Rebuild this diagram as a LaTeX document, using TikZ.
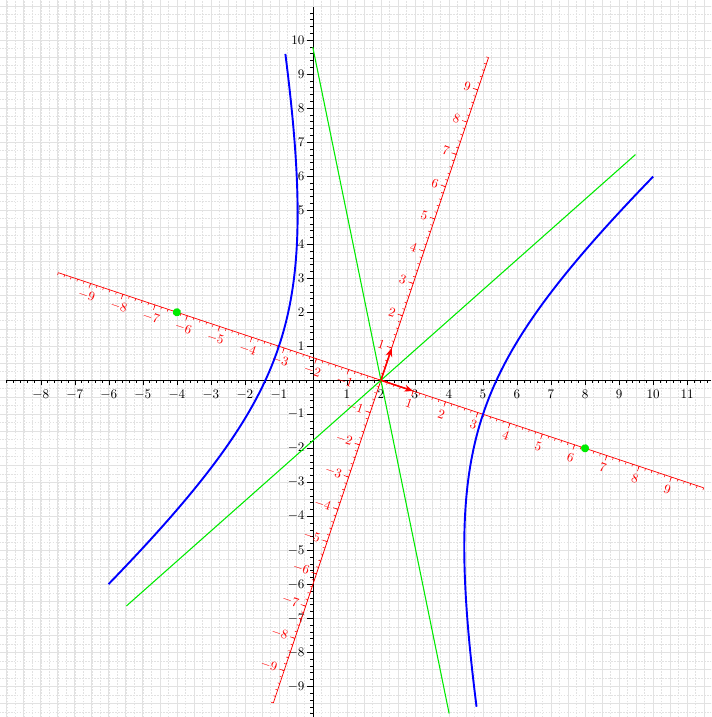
\documentclass[tikz,border=0pt]{standalone}
\usetikzlibrary{arrows.meta}
\definecolor{gridc}{RGB}{226,226,226}
\definecolor{asy}{RGB}{0,235,0}
\begin{document}
\begin{tikzpicture}[x=1cm,y=1cm,
  font=\fontsize{10.5}{12}\selectfont,
  gridminor/.style={gridc, line width=0.5pt, dash pattern=on 1.5pt off 1pt},
  gridmajor/.style={gridc, line width=0.6pt},
  axis/.style={black, line width=0.7pt},
  tickm/.style={black, line width=0.5pt},
  raxis/.style={red, line width=0.6pt},
  rtick/.style={red, line width=0.45pt},
  asym/.style={asy, line width=0.9pt},
  hyp/.style={blue, line width=1.6pt},
  uvec/.style={red, line width=1.3pt, -{Stealth[length=2.6mm,width=2mm]}},
  lab/.style={inner sep=0pt},
  rlab/.style={red, inner sep=0pt},
  focus/.style={circle, fill=asy, inner sep=0pt, minimum size=0.24cm}]
\useasboundingbox (-9.2,-9.9) rectangle (11.71,11.18);
\fill[white] (-9.2,-9.9) rectangle (11.71,11.18);
\clip (-9.2,-9.9) rectangle (11.71,11.18);
% grid
\draw[gridminor, step=0.25] (-9.5,-10) grid (12,11.5);
\draw[gridmajor, step=0.5] (-9.5,-10) grid (12,11.5);
% main axes
\coordinate (xa) at (-9,0);
\coordinate (xb) at (11.7,0);
\coordinate (ya) at (0,-9.9);
\coordinate (yb) at (0,10.97);
\draw[axis] (xa) -- (xb);
\draw[axis] (ya) -- (yb);
\foreach \i in {-45,...,58} \draw[tickm] (\i/5,0) -- (\i/5,-0.08);
\foreach \i in {-49,...,54} \draw[tickm] (0,\i/5) -- (-0.08,\i/5);
\foreach \k in {-8,...,-1,1,2,...,11} {
  \draw[tickm] (\k,0) -- (\k,-0.15);
  \node[lab, anchor=north] (xl\k) at (\k,-0.27) {$\k$};
}
\foreach \k in {-9,...,-1,1,2,...,10} {
  \draw[tickm] (0,\k) -- (-0.17,\k);
  \node[lab, anchor=east] (yl\k) at (-0.24,\k) {$\k$};
}
% rotated frame
\begin{scope}[shift={(2,0)}, rotate=-18.4349, transform shape]
  \coordinate (ua) at (-10,0);
  \coordinate (ub) at (10,0);
  \coordinate (va) at (0,-10);
  \coordinate (vb) at (0,10);
  \draw[raxis] (ua) -- (ub);
  \draw[raxis] (va) -- (vb);
  \foreach \i in {-50,...,50} {
    \draw[rtick] (\i/5,0) -- (\i/5,-0.07);
    \draw[rtick] (0,\i/5) -- (-0.07,\i/5);
  }
  \foreach \k in {-9,...,-1,1,2,...,9} {
    \draw[rtick] (\k,0) -- (\k,-0.15);
    \draw[rtick] (0,\k) -- (-0.15,\k);
    \node[rlab] (ul\k) at (\k,-0.38) {$\k$};
    \node[rlab, anchor=east] (vl\k) at (-0.22,\k) {$\k$};
  }
  % asymptotes
  \coordinate (a1) at (240:10);
  \coordinate (a2) at (60:10);
  \coordinate (a3) at (120:10);
  \coordinate (a4) at (300:10);
  \draw[asym] (a1) -- (a2);
  \draw[asym] (a3) -- (a4);
  % hyperbola
  \draw[hyp] plot[domain=-1.195:1.195, samples=120, smooth]
    ({sqrt(10)*cosh(\x)},{sqrt(30)*sinh(\x)});
  \draw[hyp] plot[domain=-1.195:1.195, samples=120, smooth]
    ({-sqrt(10)*cosh(\x)},{sqrt(30)*sinh(\x)});
  % unit vectors
  \coordinate (c) at (0,0);
  \coordinate (e1) at (1,0);
  \coordinate (e2) at (0,1);
  \draw[uvec] (c) -- (e1);
  \draw[uvec] (c) -- (e2);
  % foci
  \node[focus] (f1) at (6.3246,0) {};
  \node[focus] (f2) at (-6.3246,0) {};
\end{scope}
\end{tikzpicture}
\end{document}
